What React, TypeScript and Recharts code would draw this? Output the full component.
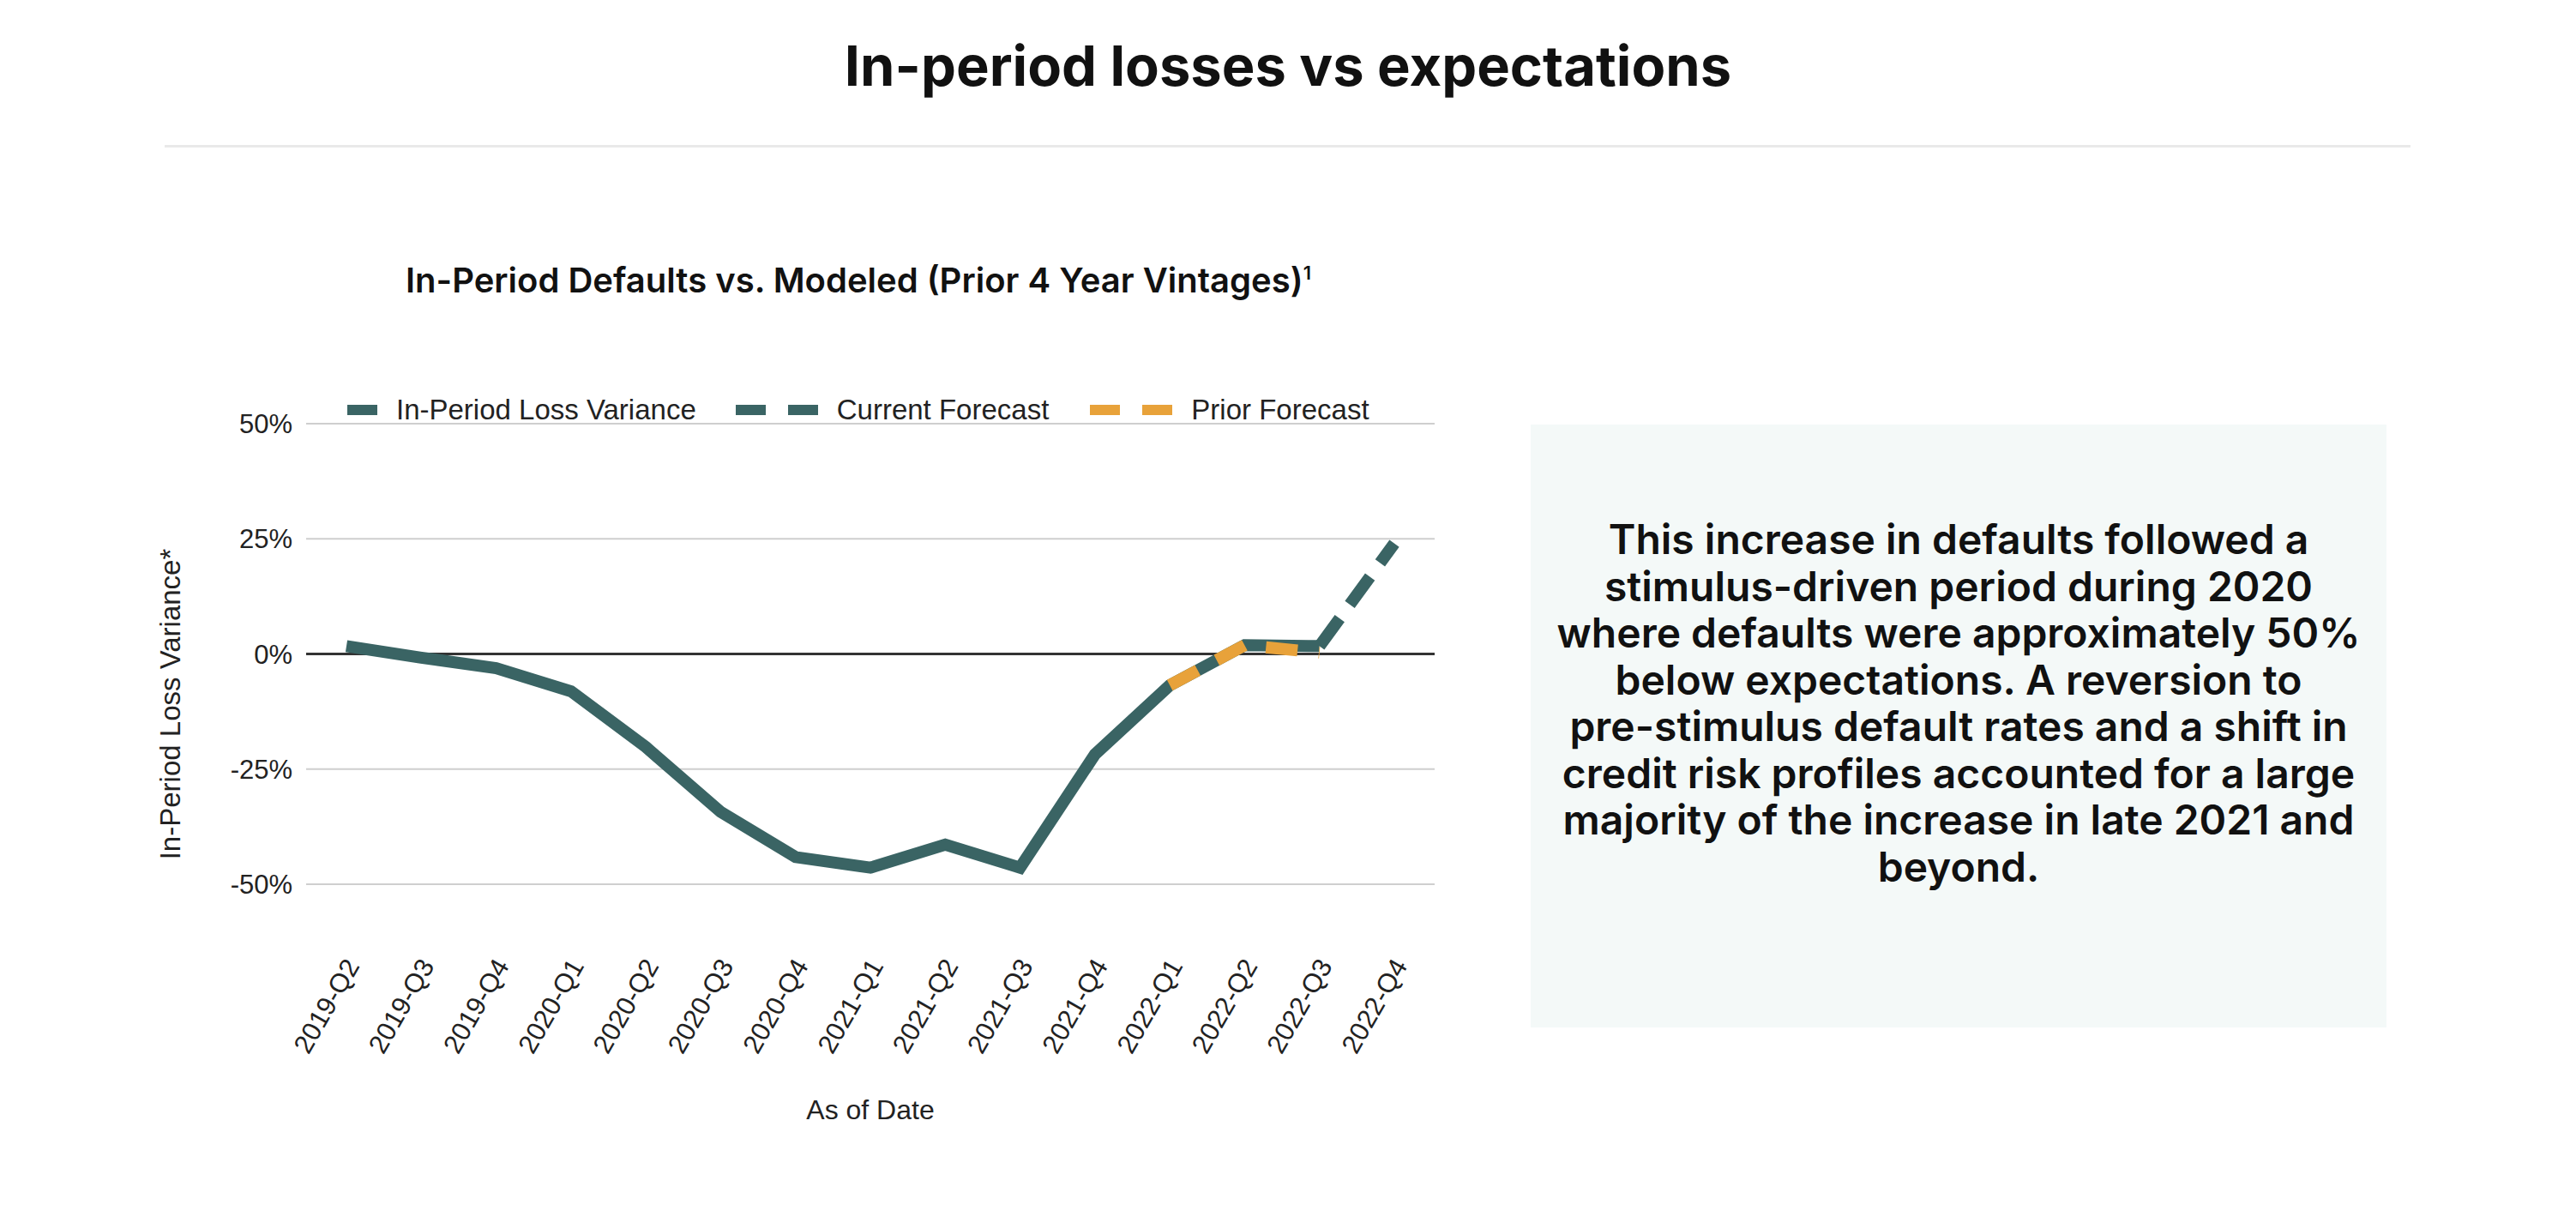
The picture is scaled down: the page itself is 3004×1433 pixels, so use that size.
import React from 'react';
import { LineChart, Line, XAxis, YAxis, CartesianGrid, ReferenceLine, Legend } from 'recharts';

const categories = [
  '2019-Q2', '2019-Q3', '2019-Q4', '2020-Q1', '2020-Q2', '2020-Q3', '2020-Q4', '2021-Q1',
  '2021-Q2', '2021-Q3', '2021-Q4', '2022-Q1', '2022-Q2', '2022-Q3', '2022-Q4',
];
const lossVariance = [1.7, -0.8, -3.1, -8.1, -20.2, -34.3, -44.1, -46.4, -41.4, -46.4, -21.8, -6.8, 1.9, 1.7, null];
const currentForecast = [null, null, null, null, null, null, null, null, null, null, null, null, null, 1.7, 24.0];
const priorForecast = [null, null, null, null, null, null, null, null, null, null, null, -6.8, 1.9, 0.3, null];
const yTicks = [-50, -25, 0, 25, 50];
const seriesNames = ['In-Period Loss Variance', 'Current Forecast', 'Prior Forecast'];

const title = 'In-period losses vs expectations';
const subtitle = 'In-Period Defaults vs. Modeled (Prior 4 Year Vintages)';
const noteLines = [
  'This increase in defaults followed a',
  'stimulus-driven period during 2020',
  'where defaults were approximately 50%',
  'below expectations. A reversion to',
  'pre-stimulus default rates and a shift in',
  'credit risk profiles accounted for a large',
  'majority of the increase in late 2021 and',
  'beyond.',
];

const TEAL = '#3A6464';
const ORANGE = '#E8A23A';
const CHART_FONT = '"Liberation Sans", Arial, sans-serif';
const HEAD_FONT = 'Inter, "Open Sans", sans-serif';

const data = categories.map((c, i) => ({
  date: c,
  loss: lossVariance[i],
  current: currentForecast[i],
  prior: priorForecast[i],
}));

const legendStyle: Record<string, { color: string; dashed: boolean }> = {
  'In-Period Loss Variance': { color: TEAL, dashed: false },
  'Current Forecast': { color: TEAL, dashed: true },
  'Prior Forecast': { color: ORANGE, dashed: true },
};

const renderLegend = () => (
  <div style={{ display: 'flex', alignItems: 'center', fontFamily: CHART_FONT, fontSize: 33, color: '#222', whiteSpace: 'nowrap' }}>
    {seriesNames.map((name, i) => {
      const st = legendStyle[name];
      return (
        <div key={name} style={{ display: 'flex', alignItems: 'center', marginLeft: i === 0 ? 0 : i === 1 ? 46 : 48 }}>
          {st.dashed ? (
            <div style={{ display: 'flex' }}>
              <div style={{ width: 35, height: 12, background: st.color }} />
              <div style={{ width: 35, height: 12, background: st.color, marginLeft: 26 }} />
            </div>
          ) : (
            <div style={{ width: 35, height: 12, background: st.color }} />
          )}
          <span style={{ marginLeft: 22 }}>{name}</span>
        </div>
      );
    })}
  </div>
);

const XTick = (props: any) => {
  const { x, y, payload } = props;
  const ax = x + 16;
  const ay = y + 95;
  return (
    <text x={ax} y={ay} transform={`rotate(-60 ${ax} ${ay})`} textAnchor="end" fontSize={31} fill="#222" fontFamily={CHART_FONT}>
      {payload.value}
    </text>
  );
};

export default function App() {
  return (
    <div style={{ position: 'absolute', left: 0, top: 0, width: 3004, height: 1433, background: '#fff', overflow: 'hidden' }}>
      <svg width={3004} height={1433} style={{ position: 'absolute', left: 0, top: 0 }}>
        <text x={1502} y={100} textAnchor="middle" fontFamily={HEAD_FONT} fontWeight={700} fontSize={65} fill="#111">
          {title}
        </text>
        <rect x={192} y={169} width={2619} height={3} fill="#e9e9e9" />
        <text x={1001} y={341} textAnchor="middle" fontFamily={HEAD_FONT} fontWeight={600} fontSize={40} fill="#111">
          {subtitle}
          <tspan dy={-15} fontSize={22}>1</tspan>
        </text>
        <rect x={1785} y={495} width={998} height={703} fill="#F4F9F8" />
        {noteLines.map((line, i) => (
          <text key={i} x={2284} y={646 + i * 54.5} textAnchor="middle" fontFamily={HEAD_FONT} fontWeight={600} fontSize={48} fill="#111">
            {line}
          </text>
        ))}
      </svg>
      <div style={{ position: 'absolute', left: 0, top: 0 }}>
        <LineChart width={1760} height={1433} data={data} margin={{ top: 494, right: 87, bottom: 202, left: 227 }}>
          <CartesianGrid vertical={false} stroke="#cfcfcf" strokeWidth={2} />
          <XAxis
            dataKey="date"
            interval={0}
            padding={{ left: 47, right: 47 }}
            axisLine={false}
            tickLine={false}
            tickSize={0}
            tickMargin={0}
            height={200}
            tick={<XTick />}
            label={{
              content: (p: any) => {
                const vb = p.viewBox || { x: 357, width: 1316 };
                return (
                  <text x={vb.x + vb.width / 2} y={1305} textAnchor="middle" fontSize={32} fill="#222" fontFamily={CHART_FONT}>
                    As of Date
                  </text>
                );
              },
            }}
          />
          <YAxis
            width={130}
            domain={[-50, 50]}
            ticks={yTicks}
            axisLine={false}
            tickLine={false}
            tickSize={0}
            tickMargin={16}
            tickFormatter={(v: number) => `${v}%`}
            tick={{ fontSize: 31, fill: '#222', fontFamily: CHART_FONT }}
            label={{
              content: () => (
                <text x={210} y={821} transform="rotate(-90 210 821)" textAnchor="middle" fontSize={33} fill="#222" fontFamily={CHART_FONT}>
                  In-Period Loss Variance*
                </text>
              ),
            }}
          />
          <ReferenceLine y={0} stroke="#333" strokeWidth={3} />
          <Legend
            verticalAlign="middle"
            align="center"
            layout="horizontal"
            content={renderLegend}
            wrapperStyle={{ left: 405, top: 459, width: 'auto', height: 42 }}
          />
          <Line dataKey="loss" name="In-Period Loss Variance" stroke={TEAL} strokeWidth={14} dot={false} activeDot={false} isAnimationActive={false} connectNulls={false} />
          <Line dataKey="current" name="Current Forecast" stroke={TEAL} strokeWidth={14} strokeDasharray="40 20" dot={false} activeDot={false} isAnimationActive={false} />
          <Line dataKey="prior" name="Prior Forecast" stroke={ORANGE} strokeWidth={14} strokeDasharray="37 25" dot={false} activeDot={false} isAnimationActive={false} />
        </LineChart>
      </div>
    </div>
  );
}
